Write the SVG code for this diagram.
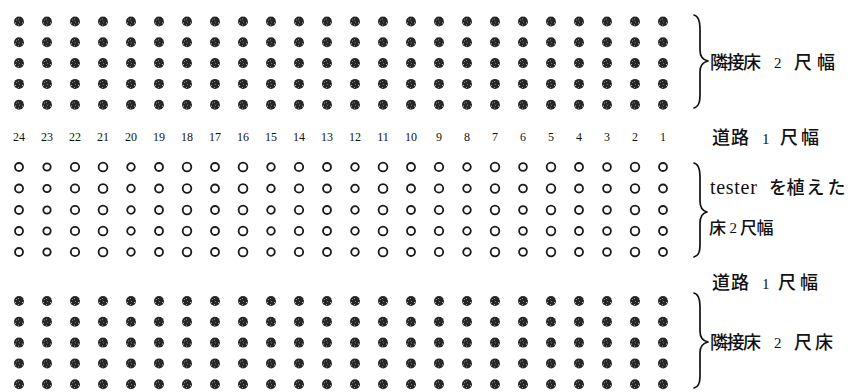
<svg xmlns="http://www.w3.org/2000/svg" xmlns:xlink="http://www.w3.org/1999/xlink" width="856" height="392" viewBox="0 0 856 392">
<style>
.dk{fill:url(#speck)}
.ho{fill:none;stroke:#1a1a1a;stroke-width:1.8}
.num{font-family:"Liberation Serif",serif;font-size:12px;fill:#111;text-anchor:middle}
.lab{font-family:"Liberation Serif","Noto Sans CJK JP",serif;font-size:18px;font-weight:500;fill:#111}
.dg{font-family:"Liberation Serif",serif;font-size:15px;font-weight:400}
.br{fill:none;stroke:#111;stroke-width:1.7;stroke-linecap:round;stroke-linejoin:round}
</style>
<defs>
<pattern id="speck" patternUnits="userSpaceOnUse" width="7" height="6">
<rect width="7" height="6" fill="#262626"/>
<rect x="1" y="1" width="1" height="1" fill="#bbb"/>
<rect x="4" y="3" width="1" height="1" fill="#999"/>
<rect x="5" y="0" width="1" height="1" fill="#777"/>
<rect x="2" y="4" width="1" height="1" fill="#888"/>
</pattern>
<g id="darkRow">
<circle class="dk" cx="19" cy="0" r="5"/><circle class="dk" cx="47" cy="0" r="5"/><circle class="dk" cx="75" cy="0" r="5"/><circle class="dk" cx="103" cy="0" r="5"/><circle class="dk" cx="131" cy="0" r="5"/><circle class="dk" cx="159" cy="0" r="5"/><circle class="dk" cx="187" cy="0" r="5"/><circle class="dk" cx="215" cy="0" r="5"/><circle class="dk" cx="243" cy="0" r="5"/><circle class="dk" cx="271" cy="0" r="5"/><circle class="dk" cx="299" cy="0" r="5"/><circle class="dk" cx="327" cy="0" r="5"/><circle class="dk" cx="355" cy="0" r="5"/><circle class="dk" cx="383" cy="0" r="5"/><circle class="dk" cx="411" cy="0" r="5"/><circle class="dk" cx="439" cy="0" r="5"/><circle class="dk" cx="467" cy="0" r="5"/><circle class="dk" cx="495" cy="0" r="5"/><circle class="dk" cx="523" cy="0" r="5"/><circle class="dk" cx="551" cy="0" r="5"/><circle class="dk" cx="579" cy="0" r="5"/><circle class="dk" cx="607" cy="0" r="5"/><circle class="dk" cx="635" cy="0" r="5"/><circle class="dk" cx="663" cy="0" r="5"/>
</g>
<g id="hollowRow">
<circle class="ho" cx="19" cy="0" r="4"/><circle class="ho" cx="47" cy="0" r="3.7"/><circle class="ho" cx="75" cy="0" r="4.2"/><circle class="ho" cx="103" cy="0" r="4.4"/><circle class="ho" cx="131" cy="0" r="3.8"/><circle class="ho" cx="159" cy="0" r="4"/><circle class="ho" cx="187" cy="0" r="4.3"/><circle class="ho" cx="215" cy="0" r="4"/><circle class="ho" cx="243" cy="0" r="4.4"/><circle class="ho" cx="271" cy="0" r="3.8"/><circle class="ho" cx="299" cy="0" r="4.2"/><circle class="ho" cx="327" cy="0" r="4"/><circle class="ho" cx="355" cy="0" r="3.8"/><circle class="ho" cx="383" cy="0" r="4.4"/><circle class="ho" cx="411" cy="0" r="4"/><circle class="ho" cx="439" cy="0" r="4.2"/><circle class="ho" cx="467" cy="0" r="3.8"/><circle class="ho" cx="495" cy="0" r="4.3"/><circle class="ho" cx="523" cy="0" r="3.9"/><circle class="ho" cx="551" cy="0" r="4.3"/><circle class="ho" cx="579" cy="0" r="4"/><circle class="ho" cx="607" cy="0" r="3.9"/><circle class="ho" cx="635" cy="0" r="4.3"/><circle class="ho" cx="663" cy="0" r="4"/>
</g>
</defs>
<rect width="856" height="392" fill="#fff"/>

<g id="top-bed">
<use xlink:href="#darkRow" href="#darkRow" y="21.5"/>
<use xlink:href="#darkRow" href="#darkRow" y="42.3"/>
<use xlink:href="#darkRow" href="#darkRow" y="63.1"/>
<use xlink:href="#darkRow" href="#darkRow" y="83.9"/>
<use xlink:href="#darkRow" href="#darkRow" y="104.7"/>
</g>

<g id="numbers">
<text class="num" x="19" y="141">24</text><text class="num" x="47" y="141">23</text><text class="num" x="75" y="141">22</text><text class="num" x="103" y="141">21</text><text class="num" x="131" y="141">20</text><text class="num" x="159" y="141">19</text><text class="num" x="187" y="141">18</text><text class="num" x="215" y="141">17</text><text class="num" x="243" y="141">16</text><text class="num" x="271" y="141">15</text><text class="num" x="299" y="141">14</text><text class="num" x="327" y="141">13</text><text class="num" x="355" y="141">12</text><text class="num" x="383" y="141">11</text><text class="num" x="411" y="141">10</text><text class="num" x="439" y="141">9</text><text class="num" x="467" y="141">8</text><text class="num" x="495" y="141">7</text><text class="num" x="523" y="141">6</text><text class="num" x="551" y="141">5</text><text class="num" x="579" y="141">4</text><text class="num" x="607" y="141">3</text><text class="num" x="635" y="141">2</text><text class="num" x="663" y="141">1</text>
</g>

<g id="tester-bed">
<use xlink:href="#hollowRow" href="#hollowRow" y="167"/>
<use xlink:href="#hollowRow" href="#hollowRow" y="188.5"/>
<use xlink:href="#hollowRow" href="#hollowRow" y="210"/>
<use xlink:href="#hollowRow" href="#hollowRow" y="231"/>
<use xlink:href="#hollowRow" href="#hollowRow" y="252"/>
</g>

<g id="bottom-bed">
<use xlink:href="#darkRow" href="#darkRow" y="301"/>
<use xlink:href="#darkRow" href="#darkRow" y="321.8"/>
<use xlink:href="#darkRow" href="#darkRow" y="342.6"/>
<use xlink:href="#darkRow" href="#darkRow" y="363.4"/>
<use xlink:href="#darkRow" href="#darkRow" y="384.2"/>
</g>

<g id="braces">
<path class="br" d="M694,15 C701,17 700,28 700,38 L700,50 C700,56 703,60 708,61 C703,62 700,66 700,72 L700,86 C700,97 701,106 694,108"/>
<path class="br" d="M694,163 C701,165 700,176 700,186 L700,201 C700,207 703,211 707,212 C703,213 700,217 700,223 L700,236 C700,247 701,255 694,257"/>
<path class="br" d="M694,293 C701,295 700,306 700,316 L700,331 C700,337 703,341 708,342 C703,343 700,347 700,353 L700,367 C700,378 701,386 694,388"/>
</g>

<g id="labels">
<text class="lab" y="69"><tspan x="710">隣</tspan><tspan x="726.5">接</tspan><tspan x="743">床</tspan><tspan class="dg" x="774" dy="-1">2</tspan><tspan x="794" dy="1">尺</tspan><tspan x="817">幅</tspan></text>
<text class="lab" y="144"><tspan x="712">道</tspan><tspan x="731">路</tspan><tspan class="dg" x="762">1</tspan><tspan x="780">尺</tspan><tspan x="801">幅</tspan></text>
<text class="lab" y="194"><tspan x="710" style="font-size:20px;font-weight:400;letter-spacing:0.7px">tester</tspan><tspan x="769">を</tspan><tspan x="786.5">植</tspan><tspan x="806.5">え</tspan><tspan x="827.5">た</tspan></text>
<text class="lab" y="234" style="font-size:17px"><tspan x="709">床</tspan><tspan class="dg" x="729.5" dy="-1">2</tspan><tspan x="740" dy="1">尺</tspan><tspan x="756.5">幅</tspan></text>
<text class="lab" y="289"><tspan x="712">道</tspan><tspan x="731">路</tspan><tspan class="dg" x="762">1</tspan><tspan x="778">尺</tspan><tspan x="800">幅</tspan></text>
<text class="lab" y="349"><tspan x="710">隣</tspan><tspan x="726.5">接</tspan><tspan x="743">床</tspan><tspan class="dg" x="774" dy="-1">2</tspan><tspan x="794" dy="1">尺</tspan><tspan x="815">床</tspan></text>
</g>
</svg>
